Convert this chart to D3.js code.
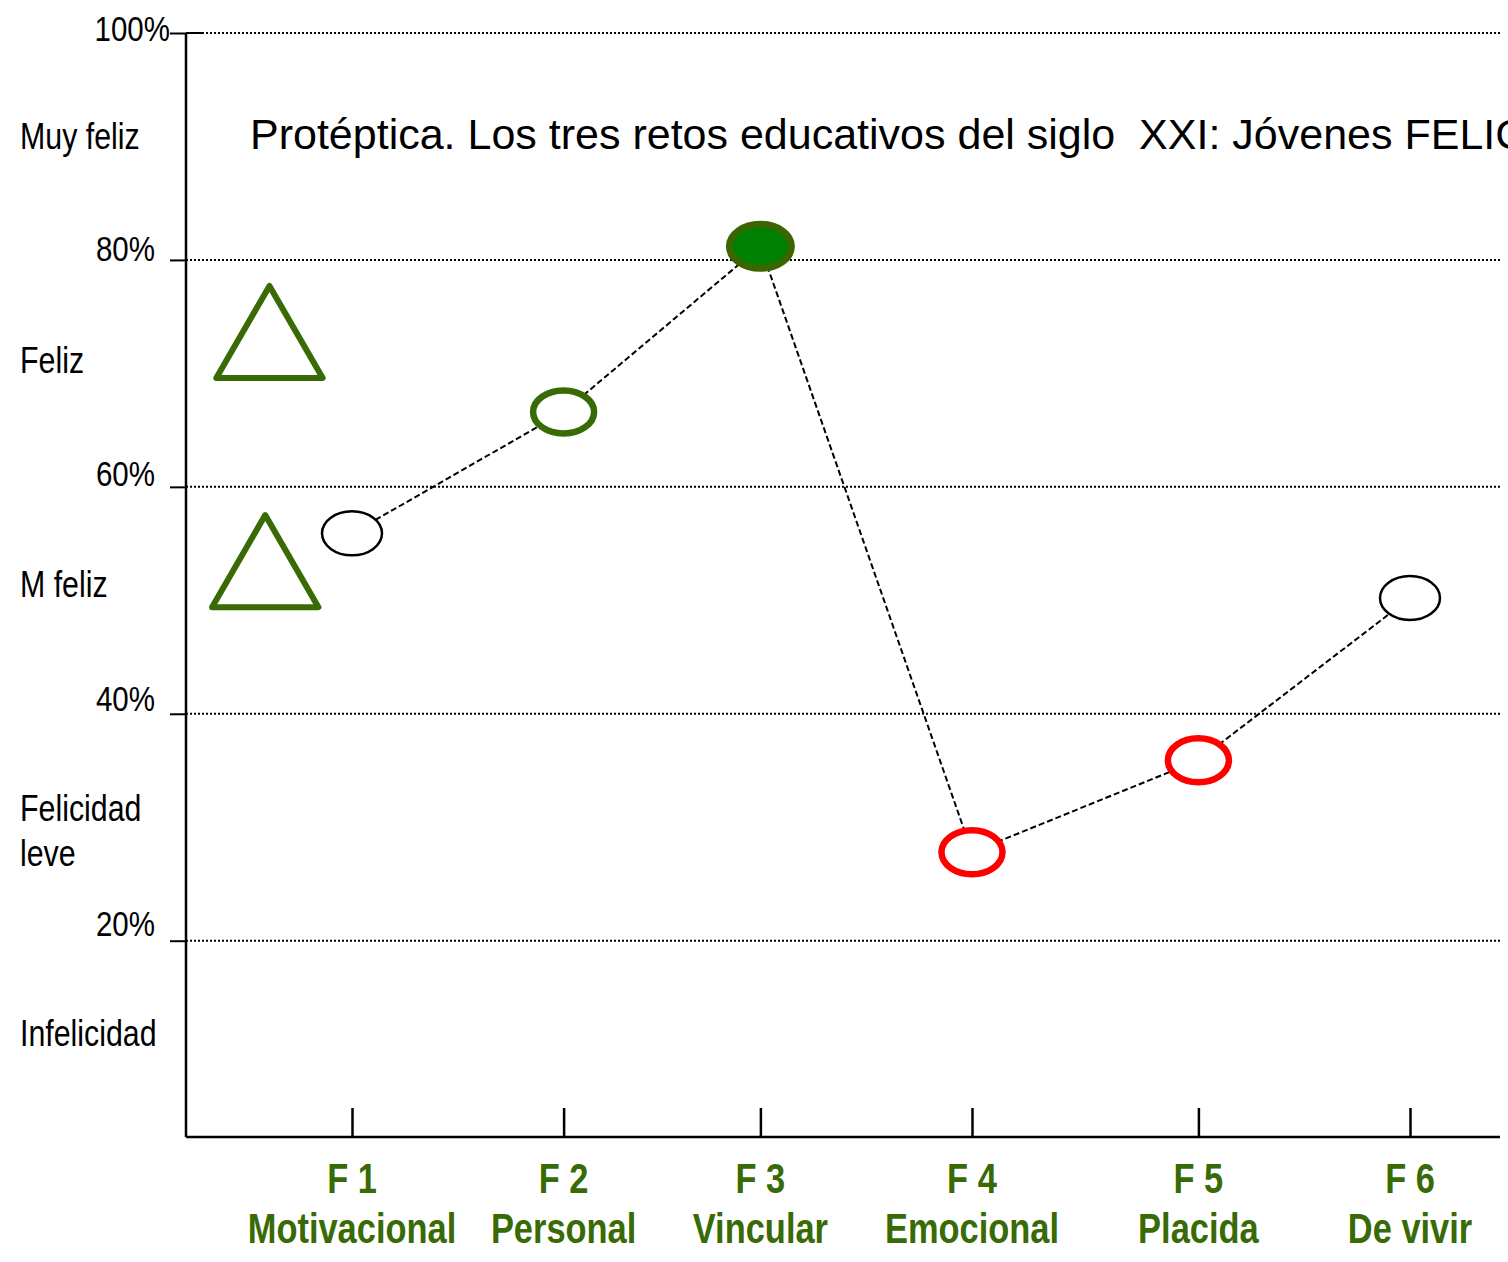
<!DOCTYPE html>
<html>
<head>
<meta charset="utf-8">
<script src="https://cdn.jsdelivr.net/npm/d3@7"></script>
<style>
  html, body { margin: 0; padding: 0; background: #fff; overflow: hidden; }
  svg { display: block; }
  text { font-family: "Liberation Sans", Arial, sans-serif; }
</style>
</head>
<body>
<svg id="chart" width="1508" height="1262"></svg>
<script>
// ---- data ----
const categories = ["F 1", "F 2", "F 3", "F 4", "F 5", "F 6"];
const categoryNames = ["Motivacional", "Personal", "Vincular", "Emocional", "Placida", "De vivir"];
const categoryPositions = [1, 2, 2.93, 3.93, 5, 6];
const values = [55.9, 66.6, 81.2, 27.8, 35.9, 50.2];
const markerKinds = ["plain", "green", "filled", "red", "red", "plain"];
const yTicks = [20, 40, 60, 80, 100];
const yTickLabels = ["20%", "40%", "60%", "80%", "100%"];
const levelLabels = [["Muy feliz"], ["Feliz"], ["M feliz"], ["Felicidad", "leve"], ["Infelicidad"]];
const levelValues = [89.8, 70, 50.3, 30, 10.7];
const triangleValues = [72.3, 52.1];
const trianglePositions = [0.61, 0.59]; // in category position units (F1 = 1)
const title = "Protéptica. Los tres retos educativos del siglo  XXI: Jóvenes FELICES, SABIOS y BUENOS";

// ---- layout ----
const svg = d3.select("#chart");
const axisX = 186, axisTop = 33, axisBottom = 1137, axisRight = 1500;
const y = d3.scaleLinear().domain([2.7, 100]).range([axisBottom, axisTop]);
const x = d3.scaleLinear().domain([1, 6]).range([352, 1410]);
const green = "#386a06";
const NARROW = 0.82;

function narrowText(sel, px, py) {
  sel.attr("x", 0).attr("y", 0)
    .attr("transform", (d, i) => `translate(${typeof px === "function" ? px(d, i) : px},${typeof py === "function" ? py(d, i) : py}) scale(${NARROW},1)`);
}

// gridlines
svg.append("g").selectAll("line").data(yTicks).join("line")
  .attr("x1", axisX).attr("x2", axisRight)
  .attr("y1", d => y(d)).attr("y2", d => y(d))
  .attr("stroke", "#000").attr("stroke-width", 2).attr("stroke-dasharray", "2,2");

// y axis
const yAxis = d3.axisLeft(y).tickValues(yTicks).tickSize(16).tickFormat((d, i) => yTickLabels[i]);
const gy = svg.append("g").attr("transform", `translate(${axisX},0)`).call(yAxis);
gy.select(".domain").remove();
gy.selectAll(".tick line").attr("stroke", "#000").attr("stroke-width", 2);
gy.selectAll(".tick text").attr("font-size", 36).attr("fill", "#000").attr("dy", null)
  .attr("text-anchor", "end")
  .call(narrowText, d => d === 100 ? -16 : -31, d => d === 100 ? 7 : (d - 100) / 20 * 2 + 3);
svg.append("line").attr("x1", axisX).attr("x2", 203).attr("y1", y(100)).attr("y2", y(100))
  .attr("stroke", "#000").attr("stroke-width", 2);
svg.append("line").attr("x1", axisX).attr("x2", axisX).attr("y1", axisTop).attr("y2", axisBottom)
  .attr("stroke", "#000").attr("stroke-width", 2.5);

// x axis
const xAxis = d3.axisTop(x).tickValues(categoryPositions).tickSize(29).tickFormat("");
const gx = svg.append("g").attr("transform", `translate(0,${axisBottom})`).call(xAxis);
gx.select(".domain").remove();
gx.selectAll(".tick line").attr("stroke", "#000").attr("stroke-width", 2.5);
svg.append("line").attr("x1", axisX).attr("x2", axisRight).attr("y1", axisBottom).attr("y2", axisBottom)
  .attr("stroke", "#000").attr("stroke-width", 2.5);

// x category labels
const xl = svg.append("g").attr("font-weight", "bold").attr("fill", green)
  .attr("font-size", 42).attr("text-anchor", "middle");
xl.selectAll("text.c").data(categories).join("text").attr("class", "c")
  .text(d => d).call(narrowText, (d, i) => x(categoryPositions[i]), 1193);
xl.selectAll("text.n").data(categoryNames).join("text").attr("class", "n")
  .text(d => d).call(narrowText, (d, i) => x(categoryPositions[i]), 1243);

// level labels
const ll = svg.append("g").attr("font-size", 37).attr("fill", "#000");
levelLabels.forEach((lines, i) => {
  lines.forEach((s, j) => {
    ll.append("text").text(s)
      .call(narrowText, 20, y(levelValues[i]) + (lines.length > 1 ? -6 + j * 45 : 0));
  });
});

// title
svg.append("text").attr("x", 250).attr("y", 149)
  .attr("font-size", 43).attr("fill", "#000").style("white-space", "pre").text(title);

// triangles
svg.append("g").selectAll("path").data(triangleValues).join("path")
  .attr("d", d3.symbol(d3.symbolTriangle, 4900))
  .attr("transform", (d, i) => `translate(${x(trianglePositions[i])},${y(d)})`)
  .attr("fill", "#fff").attr("stroke", green).attr("stroke-width", 6).attr("stroke-linejoin", "round");

// dashed line
const line = d3.line().x((d, i) => x(categoryPositions[i])).y(d => y(d));
svg.append("path").datum(values).attr("d", line)
  .attr("fill", "none").attr("stroke", "#000").attr("stroke-width", 2).attr("stroke-dasharray", "6,3");

// markers
const styles = {
  plain: { fill: "#fff", stroke: "#000", sw: 2.5, rx: 30, ry: 22 },
  green: { fill: "#fff", stroke: green, sw: 6.5, rx: 30.5, ry: 21.5 },
  filled: { fill: "#008000", stroke: "#3a6600", sw: 7, rx: 31, ry: 22 },
  red: { fill: "#fff", stroke: "#ff0000", sw: 6.5, rx: 30.5, ry: 22 }
};
svg.append("g").selectAll("ellipse").data(values).join("ellipse")
  .attr("cx", (d, i) => x(categoryPositions[i])).attr("cy", d => y(d))
  .attr("rx", (d, i) => styles[markerKinds[i]].rx).attr("ry", (d, i) => styles[markerKinds[i]].ry)
  .attr("fill", (d, i) => styles[markerKinds[i]].fill)
  .attr("stroke", (d, i) => styles[markerKinds[i]].stroke)
  .attr("stroke-width", (d, i) => styles[markerKinds[i]].sw);
</script>
</body>
</html>
